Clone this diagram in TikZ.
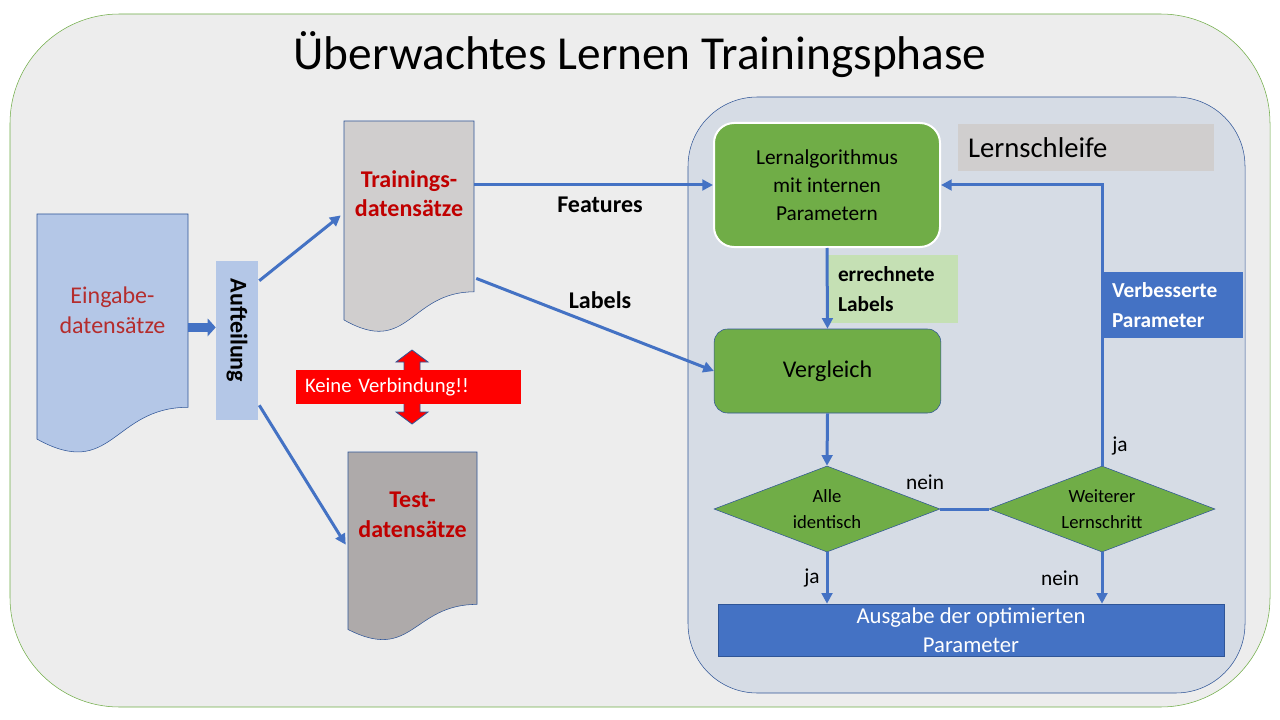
\documentclass[tikz,border=0pt]{standalone}
\usepackage{fontspec}
\setmainfont{Carlito}
\usepackage{tikz}
\usetikzlibrary{arrows.meta,shapes.geometric,calc}

\definecolor{blau}{HTML}{4472C4}
\definecolor{rahmenblau}{HTML}{2F5597}
\definecolor{gruen}{HTML}{70AD47}
\definecolor{hellgruen}{HTML}{C5E0B4}
\definecolor{hellgrau}{HTML}{D0CECE}
\definecolor{dunkelgrau}{HTML}{AEAAAA}
\definecolor{hellblau}{HTML}{B4C7E7}
\definecolor{schleife}{HTML}{D6DCE5}
\definecolor{hintergrund}{HTML}{EDEDED}
\definecolor{dunkelrot}{HTML}{C00000}
\definecolor{braunrot}{RGB}{180,45,45}

% Dokument-Symbol: [Stil]{Name}{x}{y}{Breite}{Hoehe}{Farbe}{Textlage}{Text}
\newcommand{\dokument}[9][]{%
  \filldraw[fill=#7, draw=rahmenblau] (#3,#4) -- ({#3+#5},#4) -- ({#3+#5},{#4+0.802*#6})
    .. controls ({#3+0.5*#5},{#4+0.802*#6}) and ({#3+0.5*#5},{#4+1.1075*#6}) .. (#3,{#4+0.934*#6}) -- cycle;
  \node[doktext, minimum width={0.75*#5}, #1] (#2) at ({#3+0.5*#5},{#4+#8*#6}) {#9};
}

\tikzset{
  pfeil/.style={draw=blau, line width=2.25pt, -{Triangle[length=8pt,width=8pt]}},
  linie/.style={draw=blau, line width=2.25pt},
  blockpfeil/.style={draw=blau, line width=6.75pt, -{Triangle[length=6pt,width=13pt]}},
  doktext/.style={align=center, inner sep=0pt, text=dunkelrot, font=\fontsize{18}{22}\selectfont\bfseries},
  gruenbox/.style={fill=gruen, align=center, inner sep=0pt, minimum width=169.5pt},
  raute/.style={diamond, aspect=2.6, fill=gruen, draw=rahmenblau, inner sep=0pt,
    minimum width=169.5pt, minimum height=64.5pt, align=center, font=\fontsize{14}{19}\selectfont},
  infobox/.style={align=left, inner ysep=0pt, font=\fontsize{16}{22}\selectfont\bfseries},
  antwort/.style={inner sep=0pt, font=\fontsize{16}{19}\selectfont},
  beschriftung/.style={inner sep=0pt, font=\fontsize{18}{22}\selectfont\bfseries},
}

\begin{document}
\begin{tikzpicture}[x=0.75pt, y=-0.75pt]
  \useasboundingbox (0,0) rectangle (1280,720);
  \fill[white] (0,0) rectangle (1280,720);

  % Rahmen
  \draw[draw=gruen, fill=hintergrund, rounded corners=82pt] (10,14) rectangle (1270,707);
  \draw[draw=rahmenblau, fill=schleife, rounded corners=52pt] (688,97) rectangle (1245,693);
  \node[font=\fontsize{35.5}{40}\selectfont] (titel) at (640,55) {Überwachtes Lernen Trainingsphase};

  % Daten
  \dokument[text=braunrot, font=\fontsize{18}{22}\selectfont]{eingabe}{37}{214}{151}{241}{hellblau}{0.40}{Eingabe-\\datensätze}
  \dokument{train}{344}{121}{130}{213}{hellgrau}{0.34}{Trainings-\\datensätze}
  \dokument{test}{348}{452}{129}{190}{dunkelgrau}{0.33}{Test-\\datensätze}

  \node[fill=hellblau, minimum width=31.5pt, minimum height=119.25pt, inner sep=0pt,
    font=\fontsize{18}{22}\selectfont\bfseries] (auf) at (237,340.5) {\rotatebox{-90}{Aufteilung\hspace{15pt}}};
  \draw[blockpfeil] ($(eingabe.east)+(0,17)$) coordinate (e-aus) -- (e-aus -| auf.west);
  \draw[pfeil] ($(auf.north east)+(1,20)$) -- ($(train.west)+(-3,22)$);
  \draw[pfeil] ($(auf.south east)+(1,-15)$) -- ($(test.west)+(-2,30)$);

  % keine Verbindung
  \filldraw[fill=red, draw=rahmenblau, line width=0.6pt] (412,350) -- (428,362) -- (420,362) -- (420,412)
    -- (428,412) -- (412,424) -- (396,412) -- (404,412) -- (404,362) -- (396,362) -- cycle;
  \node[fill=red, text=white, minimum width=168.75pt, minimum height=25.5pt, inner xsep=6.75pt,
    text width=155.25pt, align=left, inner ysep=0pt, font=\fontsize{15.5}{18}\selectfont] (keine) at (408.5,387) {Keine Verbindung!!};

  % Lernschleife
  \node[fill=hellgrau, minimum width=192pt, minimum height=35.25pt, inner xsep=7.5pt, text width=177pt,
    align=left, inner ysep=0pt, font=\fontsize{21.5}{25}\selectfont] (schleife) at (1086,147.5) {Lernschleife};
  \node[gruenbox, draw=white, line width=1.5pt, rounded corners=15pt, minimum height=93pt,
    font=\fontsize{16}{21}\selectfont] (algo) at (827,185) {Lernalgorithmus\\mit internen\\Parametern};
  \node[gruenbox, draw=rahmenblau, rounded corners=10pt, minimum width=170pt, minimum height=63pt,
    font=\fontsize{18}{22}\selectfont] (vergleich) at (827.5,371) {Vergleich};
  \node[raute] (alle) at (827,509) {Alle\\identisch};
  \node[raute] (weiter) at (1102,509) {Weiterer\\Lernschritt};
  \node[fill=blau, draw=rahmenblau, text=white, minimum width=379.5pt, minimum height=39pt, inner sep=0pt,
    align=center, font=\fontsize{17}{21.75}\selectfont] (ausgabe) at (971,630) {Ausgabe der optimierten\\Parameter};
  \node[infobox, fill=hellgruen, minimum height=51pt, inner xsep=7.5pt, text width=82.5pt] (errechnet) at (893,289) {errechnete\\Labels};

  \draw[pfeil] (train.east |- algo.west) -- (algo.west);
  \draw[pfeil] ($(train.east)+(2,85)$) -- (vergleich.west);
  \node[beschriftung] (features) at (600,205) {Features};
  \node[beschriftung] (labels) at (600,300) {Labels};

  \draw[pfeil] (algo.south) -- (vergleich.north);
  \draw[pfeil] (vergleich.south) -- (alle.north);
  \draw[linie] (alle.east) -- (weiter.west);
  \draw[pfeil] (weiter.north) |- (algo.east);
  \draw[pfeil] (alle.south) -- (alle.south |- ausgabe.north);
  \draw[pfeil] (weiter.south) -- (weiter.south |- ausgabe.north);
  \node[infobox, fill=blau, text=white, minimum height=49.5pt, inner xsep=6.75pt, text width=91.5pt] (verbessert) at (1173,305) {Verbesserte\\Parameter};

  \node[antwort] (nein1) at (925,482) {nein};
  \node[antwort] (ja1) at (1120,446) {ja};
  \node[antwort] (ja2) at (812,578) {ja};
  \node[antwort] (nein2) at (1060,578) {nein};
\end{tikzpicture}
\end{document}
